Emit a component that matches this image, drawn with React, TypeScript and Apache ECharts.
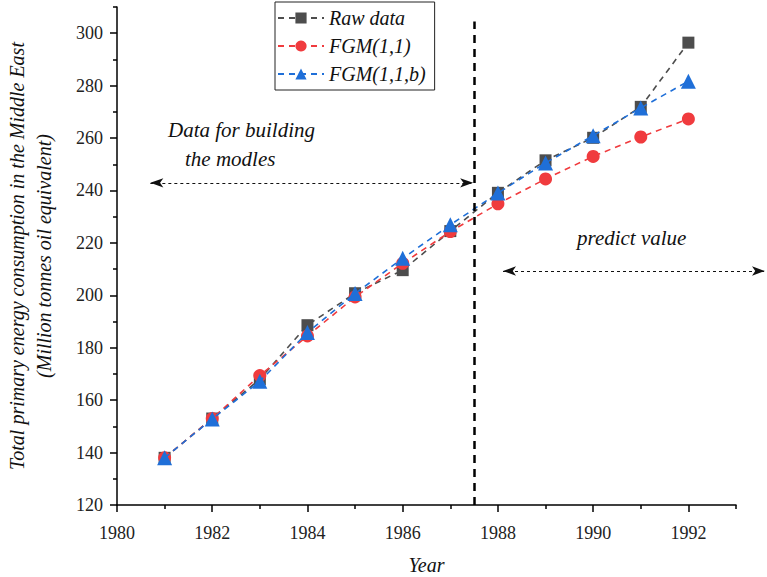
import React, { useEffect, useRef } from "react";
import * as echarts from "echarts";

const years = [1981, 1982, 1983, 1984, 1985, 1986, 1987, 1988, 1989, 1990, 1991, 1992];
const rawData = [138.0, 153.0, 168.0, 188.6, 200.8, 209.6, 224.5, 239.1, 251.5, 260.1, 271.9, 296.4];
const fgm11 = [138.0, 153.0, 169.4, 184.5, 199.4, 212.2, 224.3, 234.9, 244.4, 253.0, 260.4, 267.3];
const fgm11b = [138.0, 152.8, 167.2, 185.8, 200.7, 214.1, 226.9, 239.0, 250.5, 260.9, 271.5, 281.7];

const xMajorTicks = [1980, 1982, 1984, 1986, 1988, 1990, 1992];
const xMinorTicks = [1981, 1983, 1985, 1987, 1989, 1991, 1993];
const yMajorTicks = [120, 140, 160, 180, 200, 220, 240, 260, 280, 300];
const yMinorTicks = [130, 150, 170, 190, 210, 230, 250, 270, 290, 310];

const splitYear = 1987.5;
const serif = '"Liberation Serif", "Times New Roman", serif';

export default function App() {
  const ref = useRef<HTMLDivElement>(null);
  useEffect(() => {
    document.body.style.margin = "0";
    if (!ref.current) return;
    const chart = echarts.init(ref.current, undefined, { renderer: "svg" });
    const pair = (arr: number[]) => years.map((y, i) => [y, arr[i]]);
    const dashed = [6, 5];
    const axisCommon = {
      type: "value",
      min: 1980,
      max: 1993,
      splitLine: { show: false },
    };
    const plain = (v: number) => String(v);
    chart.setOption({
      animation: false,
      grid: { left: 117, right: 31, top: 7, bottom: 72, containLabel: false, outerBoundsMode: "none" },
      legend: {
        data: ["Raw data", "FGM(1,1)", "FGM(1,1,b)"],
        orient: "vertical",
        left: 275,
        top: 2,
        padding: [6, 9, 6, 2],
        itemGap: 8,
        itemWidth: 46,
        itemHeight: 14,
        borderColor: "#222",
        borderWidth: 1,
        textStyle: { fontFamily: serif, fontStyle: "italic", fontSize: 20, color: "#111" },
      },
      xAxis: [
        {
          ...axisCommon,
          name: "Year",
          nameLocation: "middle",
          nameGap: 50,
          nameTextStyle: { fontFamily: serif, fontStyle: "italic", fontSize: 20, color: "#111" },
          axisLine: { show: true, onZero: false, lineStyle: { color: "#000", width: 1.5 } },
          axisTick: { show: true, customValues: xMajorTicks, length: 7, lineStyle: { color: "#000", width: 1.5 } },
          axisLabel: {
            customValues: xMajorTicks,
            formatter: plain,
            margin: 19,
            fontFamily: serif,
            fontSize: 18,
            color: "#222",
          },
        },
        {
          ...axisCommon,
          position: "bottom",
          axisLine: { show: false, onZero: false },
          axisTick: { show: true, customValues: xMinorTicks, length: 4, lineStyle: { color: "#000", width: 1.5 } },
          axisLabel: { show: false },
        },
      ],
      yAxis: [
        {
          type: "value",
          min: 120,
          max: 310,
          splitLine: { show: false },
          name: "Total primary energy consumption in the Middle East\n(Million tonnes oil equivalent)",
          nameLocation: "middle",
          nameGap: 60,
          nameTextStyle: {
            fontFamily: serif,
            fontStyle: "italic",
            fontSize: 20,
            lineHeight: 27,
            color: "#111",
            align: "center",
          },
          axisLine: { show: true, onZero: false, lineStyle: { color: "#000", width: 1.5 } },
          axisTick: { show: true, customValues: yMajorTicks, length: 7, lineStyle: { color: "#000", width: 1.5 } },
          axisLabel: {
            customValues: yMajorTicks,
            formatter: plain,
            margin: 14,
            fontFamily: serif,
            fontSize: 18,
            color: "#222",
          },
        },
        {
          type: "value",
          min: 120,
          max: 310,
          position: "left",
          splitLine: { show: false },
          axisLine: { show: false, onZero: false },
          axisTick: { show: true, customValues: yMinorTicks, length: 4, lineStyle: { color: "#000", width: 1.5 } },
          axisLabel: { show: false },
        },
      ],
      series: [
        {
          name: "Raw data",
          type: "line",
          data: pair(rawData),
          symbol: "rect",
          symbolSize: 12,
          clip: false,
          itemStyle: { color: "#4D4D4D" },
          lineStyle: { color: "#4D4D4D", type: dashed, width: 1.6 },
          z: 2,
          markLine: {
            silent: true,
            animation: false,
            label: { show: false },
            data: [
              [
                { coord: [splitYear, 120], symbol: "none", lineStyle: { color: "#000", width: 2.5, type: [8, 6] } },
                { coord: [splitYear, 304.5], symbol: "none" },
              ],
              [
                { coord: [1980.7, 242.9], symbol: "arrow", symbolSize: [7, 13], lineStyle: { color: "#111", width: 1, type: [3, 3] } },
                { coord: [1987.48, 242.9], symbol: "arrow", symbolSize: [7, 13] },
              ],
              [
                { x: 503, y: 271, symbol: "arrow", symbolSize: [7, 13], lineStyle: { color: "#111", width: 1, type: [3, 3] } },
                { x: 765, y: 271, symbol: "arrow", symbolSize: [7, 13] },
              ],
            ],
          },
        },
        {
          name: "FGM(1,1)",
          type: "line",
          data: pair(fgm11),
          symbol: "circle",
          symbolSize: 13,
          itemStyle: { color: "#F03B3E" },
          lineStyle: { color: "#F03B3E", type: dashed, width: 1.6 },
          z: 3,
        },
        {
          name: "FGM(1,1,b)",
          type: "line",
          data: pair(fgm11b),
          symbol: "triangle",
          symbolSize: 15,
          itemStyle: { color: "#1F6FD8" },
          lineStyle: { color: "#1F6FD8", type: dashed, width: 1.6 },
          z: 4,
        },
      ],
      graphic: [
        {
          type: "text",
          left: 168,
          top: 119,
          style: { text: "Data for building", font: `italic 21px ${serif}`, fill: "#111" },
        },
        {
          type: "text",
          left: 185,
          top: 148,
          style: { text: "the modles", font: `italic 21px ${serif}`, fill: "#111" },
        },
        {
          type: "text",
          left: 577,
          top: 227,
          style: { text: "predict value", font: `italic 21px ${serif}`, fill: "#111" },
        },
      ],
    });
    return () => chart.dispose();
  }, []);
  return <div ref={ref} style={{ width: 767, height: 577 }} />;
}
